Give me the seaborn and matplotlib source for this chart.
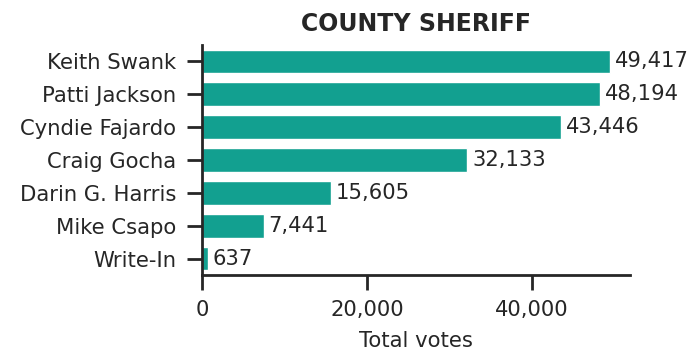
import matplotlib
matplotlib.use("Agg")
import matplotlib.pyplot as plt
import seaborn as sns
import pandas as pd

candidates = ["Keith Swank", "Patti Jackson", "Cyndie Fajardo", "Craig Gocha",
              "Darin G. Harris", "Mike Csapo", "Write-In"]
votes = [49417, 48194, 43446, 32133, 15605, 7441, 637]
xticks = [0, 20000, 40000]
title = "COUNTY SHERIFF"
xlabel = "Total votes"

sns.set_theme(style="ticks")
plt.rcParams['font.family'] = ['DejaVu Sans']
plt.rcParams['text.color'] = '#262626'
plt.rcParams['axes.labelcolor'] = '#262626'
plt.rcParams['xtick.color'] = '#262626'
plt.rcParams['ytick.color'] = '#262626'

df = pd.DataFrame({"candidate": candidates, "votes": votes})

fs = 15.2
fig = plt.figure(figsize=(6.88, 3.54), dpi=100)
ax = fig.add_axes([0.294, 0.223, 0.622, 0.65])
sns.barplot(data=df, x="votes", y="candidate", color="#12a090", saturation=1,
            width=0.72, ax=ax)
for i, v in enumerate(votes):
    ax.text(v + 600, i, f"{v:,}", va="center", ha="left", fontsize=fs, color="#262626")
ax.set_xlim(0, max(votes) * 1.05)
ax.set_xticks(xticks)
ax.set_xticklabels([f"{t:,}" for t in xticks])
ax.set_ylabel("")
ax.set_xlabel(xlabel, fontsize=fs, labelpad=8)
ax.tick_params(axis="y", labelsize=fs, length=11, width=2, pad=8)
ax.tick_params(axis="x", labelsize=fs, length=11, width=2, pad=7)
for s in ["left", "bottom"]:
    ax.spines[s].set_linewidth(2)
    ax.spines[s].set_color("#262626")
sns.despine(ax=ax)
ax.set_title(title, fontsize=17, fontweight="bold", pad=10)
fig.savefig("out.png", dpi=100)
